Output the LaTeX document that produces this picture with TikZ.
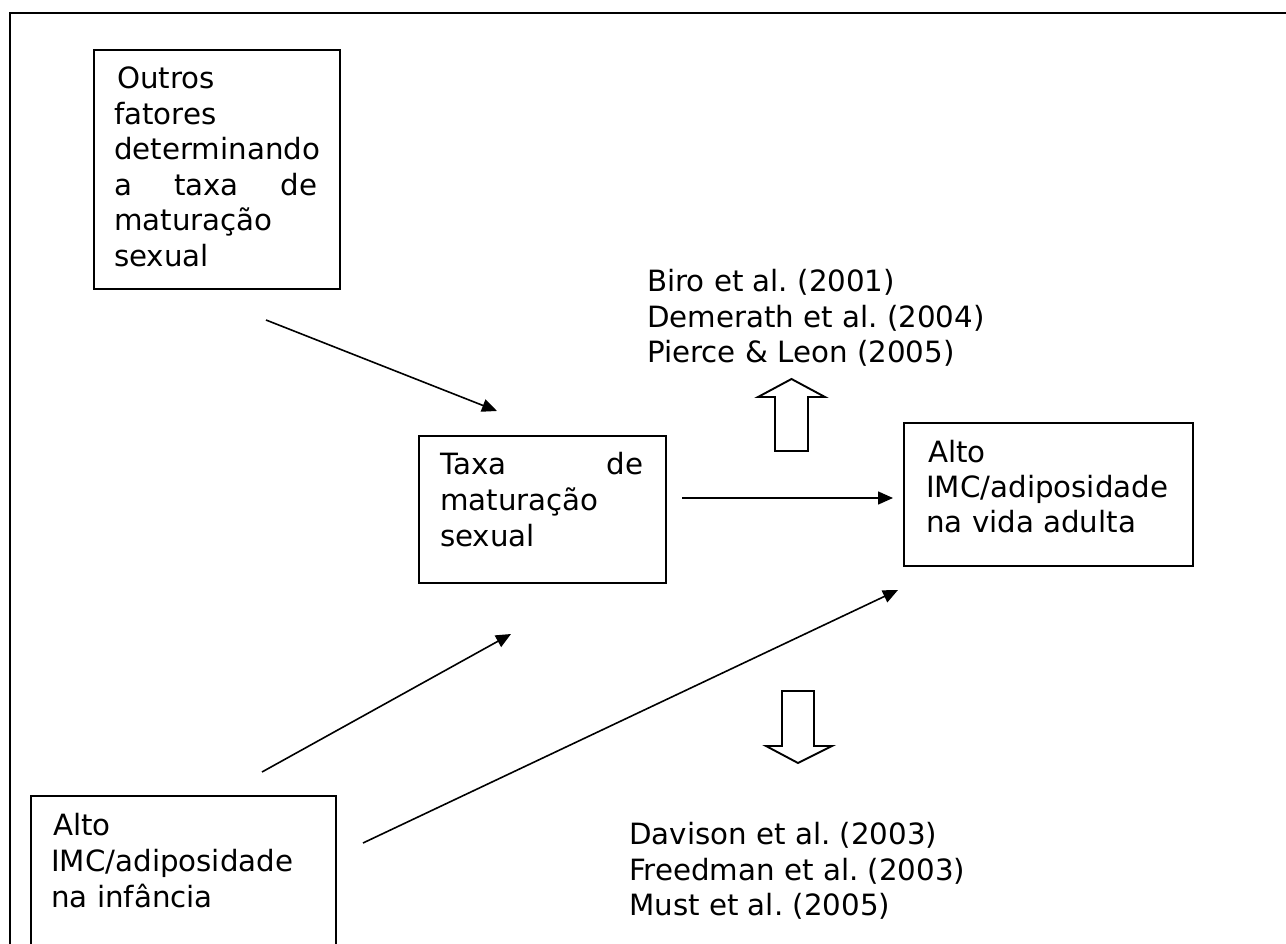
\documentclass[tikz,border=0pt]{standalone}
\usepackage{fontspec}
\setmainfont{DejaVu Sans}
\usetikzlibrary{arrows.meta}
\frenchspacing
\tikzset{
  frame/.style={line width=2pt},
  boxline/.style={draw, line width=1.9pt, inner sep=0pt, anchor=north west},
  txt/.style={anchor=base west, inner sep=0pt, font=\fontsize{29.3}{35.5}\selectfont\frenchspacing},
  conn/.style={line width=1.6pt, -{Triangle[length=15pt,width=13pt]}},
  blockarrow/.style={draw, line width=1.9pt, line join=miter}
}
\begin{document}
\begin{tikzpicture}[x=1pt,y=-1pt]
\useasboundingbox (0,0) rectangle (1286,944);
\clip (0,0) rectangle (1286,944);
% outer frame
\draw[frame] (10,960) -- (10,13.5) -- (1300,13.5);
% boxes
\node[boxline, minimum width=246pt, minimum height=239pt] (b1) at (93,49) {};
\node[boxline, minimum width=247pt, minimum height=147pt] (b2) at (418,435) {};
\node[boxline, minimum width=289pt, minimum height=143pt] (b3) at (903,422) {};
\node[boxline, minimum width=305pt, minimum height=200pt] (b4) at (30,795) {};
% box 1 text
\node[txt] (t11) at (117,89) {Outros};
\node[txt] (t12) at (114,124.5) {fatores};
\node[txt] (t13) at (114,160) {determinando};
\node[txt] (t14) at (114,195.5) {\makebox[203pt][s]{a taxa de}};
\node[txt] (t15) at (114,231) {maturação};
\node[txt] (t16) at (114,266.5) {sexual};
% box 2 text
\node[txt] (t21) at (440,474) {\makebox[203pt][s]{Taxa de}};
\node[txt] (t22) at (440,510) {maturação};
\node[txt] (t23) at (440,546) {sexual};
% box 3 text
\node[txt] (t31) at (928,462) {Alto};
\node[txt] (t32) at (926,497) {IMC/adiposidade};
\node[txt] (t33) at (926,532) {na vida adulta};
% box 4 text
\node[txt] (t41) at (53,835) {Alto};
\node[txt] (t42) at (51,871) {IMC/adiposidade};
\node[txt] (t43) at (51,907) {na infância};
% references
\node[txt] (r1) at (647,292) {Biro et al. (2001)};
\node[txt] (r2) at (647,327) {Demerath et al. (2004)};
\node[txt] (r3) at (647,362) {Pierce \& Leon (2005)};
\node[txt] (r4) at (629,844) {Davison et al. (2003)};
\node[txt] (r5) at (629,880) {Freedman et al. (2003)};
\node[txt] (r6) at (629,915) {Must et al. (2005)};
% connector end points
\coordinate (a1s) at (266,320);
\coordinate (a1e) at (497,411);
\coordinate (a2s) at (262,772);
\coordinate (a2e) at (511,634);
\coordinate (a3s) at (363,843);
\coordinate (a3e) at (898,590);
\coordinate (a4s) at (682,498);
\coordinate (a4e) at (893,498);
\draw[conn] (a1s) -- (a1e);
\draw[conn] (a2s) -- (a2e);
\draw[conn] (a3s) -- (a3e);
\draw[conn] (a4s) -- (a4e);
% block arrows
\draw[blockarrow] (775,451) -- (775,397) -- (758,397) -- (791.5,379) -- (825,397) -- (808,397) -- (808,451) -- cycle;
\draw[blockarrow] (782,691) -- (814,691) -- (814,746) -- (832,746) -- (798,763) -- (766,746) -- (782,746) -- cycle;
\end{tikzpicture}
\end{document}
